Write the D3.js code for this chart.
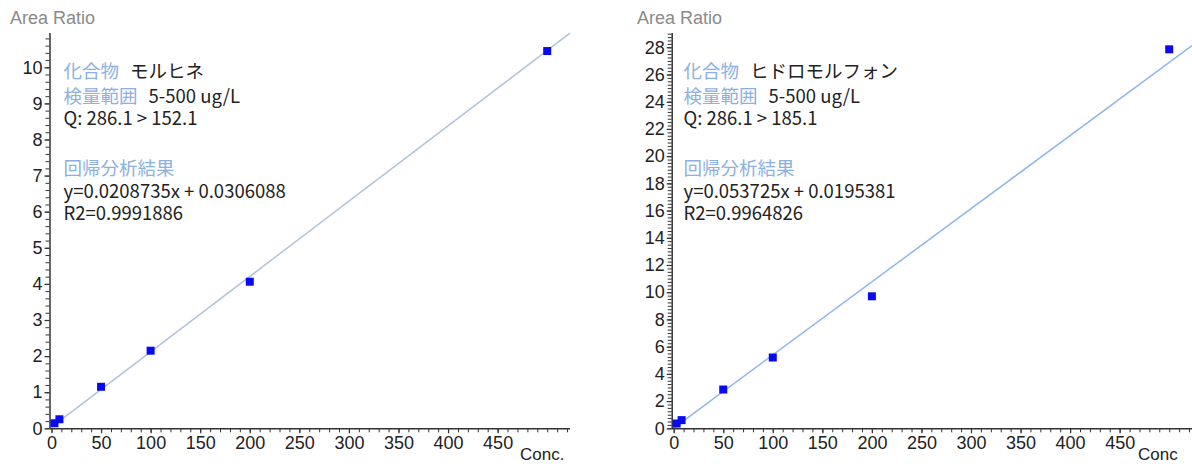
<!DOCTYPE html>
<html><head><meta charset="utf-8">
<script src="https://cdn.jsdelivr.net/npm/d3@7"></script>
<style>
html,body{margin:0;padding:0;background:#fff;}
svg{display:block;}
</style></head>
<body>
<svg id="chart" width="1192" height="464"></svg>
<script>
// ---- data ----
const concLevels = [3, 8, 50, 100, 200, 500];
const morphineRatio = [0.14, 0.25, 1.15, 2.15, 4.06, 10.45];
const hydromorphoneRatio = [0.35, 0.60, 2.85, 5.20, 9.70, 27.85];
const compoundNames = ["モルヒネ", "ヒドロモルフォン"];
const rangeText = "5-500 ug/L";
const qTexts = ["Q: 286.1 > 152.1", "Q: 286.1 > 185.1"];
const eqTexts = ["y=0.0208735x + 0.0306088", "y=0.053725x + 0.0195381"];
const r2Texts = ["R2=0.9991886", "R2=0.9964826"];
const slopes = [0.0208735, 0.053725];
const intercepts = [0.0306088, 0.0195381];
const xTickLabels = [0, 50, 100, 150, 200, 250, 300, 350, 400, 450];
const yTickLabelsLeft = [0, 1, 2, 3, 4, 5, 6, 7, 8, 9, 10];
const yTickLabelsRight = [0, 2, 4, 6, 8, 10, 12, 14, 16, 18, 20, 22, 24, 26, 28];
const xAxisTitles = ["Conc.", "Conc"];
const yAxisTitle = "Area Ratio";

const svg = d3.select("#chart");

function drawPanel(cfg) {
  const g = svg.append("g");
  const x = d3.scaleLinear().domain([-2, 523]).range([cfg.left, cfg.right]);
  const y = d3.scaleLinear().domain([0, cfg.ymax]).range([428.3, 33]);

  // regression line
  g.append("line")
    .attr("x1", x(0)).attr("y1", y(cfg.intercept))
    .attr("x2", x(523)).attr("y2", y(cfg.slope * 523 + cfg.intercept))
    .attr("stroke", cfg.lineColor).attr("stroke-width", 1.5);

  // minor y ticks
  const yMinor = d3.range(0, cfg.ymax + 1e-9, cfg.yMinorStep);
  g.append("g").attr("transform", `translate(${cfg.left},0)`)
    .call(d3.axisLeft(y).tickValues(yMinor).tickSize(4).tickFormat(""))
    .call(a => a.select(".domain").remove())
    .selectAll("line").attr("stroke", "#333").attr("stroke-width", 1);

  // major y axis
  g.append("g").attr("transform", `translate(${cfg.left},0)`)
    .call(d3.axisLeft(y).tickValues(cfg.yTicks).tickSize(5).tickSizeOuter(0).tickPadding(2))
    .call(a => {
      a.select(".domain").attr("stroke", "#333").attr("stroke-width", 1.5)
        .attr("d", `M0.5,${y(0)}V33`);
      a.selectAll("line").attr("stroke", "#333").attr("stroke-width", 1.2);
      a.selectAll("text").attr("fill", "#222")
        .style("font-family", "'Liberation Sans', Arial, sans-serif").style("font-size", "18px");
    });

  // minor x ticks
  const xMinor = d3.range(0, 521, 10);
  g.append("g").attr("transform", `translate(0,${y(0)})`)
    .call(d3.axisBottom(x).tickValues(xMinor).tickSize(4).tickFormat(""))
    .call(a => a.select(".domain").remove())
    .selectAll("line").attr("stroke", "#333").attr("stroke-width", 1);

  // major x axis
  g.append("g").attr("transform", `translate(0,${y(0)})`)
    .call(d3.axisBottom(x).tickValues(xTickLabels).tickSize(5).tickSizeOuter(0).tickPadding(3))
    .call(a => {
      a.select(".domain").attr("stroke", "#333").attr("stroke-width", 1.5)
        .attr("d", `M${cfg.left},0.5H${cfg.right}`);
      a.selectAll("line").attr("stroke", "#333").attr("stroke-width", 1.2);
      a.selectAll("text").attr("fill", "#222")
        .style("font-family", "'Liberation Sans', Arial, sans-serif").style("font-size", "18px");
    });

  // points
  const sz = 8;
  g.selectAll("rect.pt").data(cfg.values.map((v, i) => [concLevels[i], v]))
    .join("rect").attr("class", "pt")
    .attr("x", d => x(d[0]) - sz / 2).attr("y", d => y(d[1]) - sz / 2)
    .attr("width", sz).attr("height", sz).attr("fill", "#0a0af0");

  // axis titles
  g.append("text").attr("x", cfg.titleX).attr("y", 24)
    .attr("fill", "#8a8a8a")
    .style("font-family", "'Liberation Sans', Arial, sans-serif").style("font-size", "18px")
    .text(yAxisTitle);
  g.append("text").attr("x", cfg.convX).attr("y", 460)
    .attr("fill", "#222")
    .style("font-family", "'Liberation Sans', Arial, sans-serif").style("font-size", "17px")
    .text(cfg.xTitle);

  // annotation block
  const tx = cfg.textX;
  const font = "'Noto Sans CJK JP', 'Noto Sans', sans-serif";
  const blue = "#8db0e2", dark = "#222";
  const ann = g.append("g").style("font-family", font).style("font-size", "18.5px").style("font-weight", "400");
  const l1 = ann.append("text").attr("x", tx).attr("y", 78);
  l1.append("tspan").attr("fill", blue).text("化合物");
  l1.append("tspan").attr("fill", dark).attr("dx", 11).text(cfg.name);
  const l2 = ann.append("text").attr("x", tx).attr("y", 103);
  l2.append("tspan").attr("fill", blue).text("検量範囲");
  l2.append("tspan").attr("fill", dark).attr("dx", 11).text(rangeText);
  ann.append("text").attr("x", tx).attr("y", 125).attr("fill", dark).text(cfg.q);
  ann.append("text").attr("x", tx).attr("y", 175).attr("fill", blue).text("回帰分析結果");
  ann.append("text").attr("x", tx).attr("y", 198).attr("fill", dark).text(cfg.eq);
  ann.append("text").attr("x", tx).attr("y", 220).attr("fill", dark).text(cfg.r2);
}

drawPanel({left: 49.5, right: 570, ymax: 10.95, yMinorStep: 0.2, yTicks: yTickLabelsLeft,
  values: morphineRatio, slope: slopes[0], intercept: intercepts[0], lineColor: "#b3c3db",
  name: compoundNames[0], q: qTexts[0], eq: eqTexts[0], r2: r2Texts[0], xTitle: xAxisTitles[0],
  convX: 520, titleX: 10, textX: 63.5});
drawPanel({left: 671.7, right: 1192, ymax: 29.05, yMinorStep: 0.25, yTicks: yTickLabelsRight,
  values: hydromorphoneRatio, slope: slopes[1], intercept: intercepts[1], lineColor: "#8fb6ea",
  name: compoundNames[1], q: qTexts[1], eq: eqTexts[1], r2: r2Texts[1], xTitle: xAxisTitles[1],
  convX: 1138, titleX: 637, textX: 683.5});
</script>
</body></html>
